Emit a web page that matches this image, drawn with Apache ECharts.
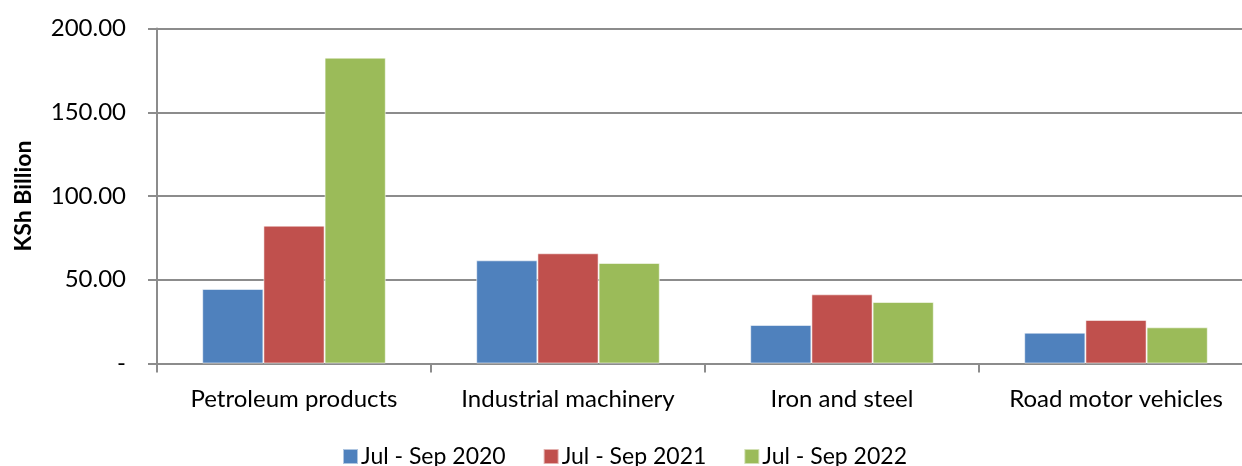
<!DOCTYPE html>
<html>
<head>
<meta charset="utf-8">
<script src="https://cdn.jsdelivr.net/npm/echarts@6/dist/echarts.min.js"></script>
<style>
  html, body { margin: 0; padding: 0; background: #fff; overflow: hidden; }
  /* the source plot runs ~11px past the right edge, so the canvas is a bit wider than the window */
  #chart { width: 1253px; height: 466px; }
</style>
</head>
<body>
<div id="chart"></div>
<script>
const categories = ['Petroleum products', 'Industrial machinery', 'Iron and steel', 'Road motor vehicles'];
const seriesNames = ['Jul - Sep 2020', 'Jul - Sep 2021', 'Jul - Sep 2022'];
const values2020 = [44.5, 61.6, 23.0, 18.4];
const values2021 = [82.3, 65.8, 41.3, 26.0];
const values2022 = [182.6, 60.0, 36.7, 21.6];
const colors = ['#4F81BD', '#C0504D', '#9BBB59'];

const font = 'Lato, "Liberation Sans", sans-serif';
const seriesValues = [values2020, values2021, values2022];

const chart = echarts.init(document.getElementById('chart'));

chart.setOption({
  animation: false,
  textStyle: { fontFamily: font },
  grid: { left: 157, right: 0, top: 28.5, bottom: 102.5, containLabel: false },
  legend: {
    data: seriesNames,
    bottom: -7,
    left: 337,
    itemWidth: 15,
    itemHeight: 15,
    itemGap: 37,
    icon: 'rect',
    textStyle: { fontSize: 23, color: '#000', fontFamily: font, padding: [0, 0, 0, -2] }
  },
  xAxis: {
    type: 'category',
    data: categories,
    axisLine: { lineStyle: { color: '#8c8c8c', width: 2 } },
    axisTick: { show: true, interval: 0, length: 9, lineStyle: { color: '#8c8c8c', width: 2 } },
    axisLabel: { interval: 0, fontSize: 24, color: '#000', margin: 24, fontFamily: font }
  },
  yAxis: {
    type: 'value',
    min: 0,
    max: 200,
    interval: 50,
    name: 'KSh Billion',
    nameLocation: 'middle',
    nameGap: 122,
    nameTextStyle: { fontSize: 23, fontWeight: 'bold', color: '#000', fontFamily: font },
    axisLine: { show: true, lineStyle: { color: '#8c8c8c', width: 2 } },
    axisTick: { show: true, length: 9, inside: false, lineStyle: { color: '#8c8c8c', width: 2 } },
    splitLine: { lineStyle: { color: '#8c8c8c', width: 2 } },
    axisLabel: {
      fontSize: 24,
      color: '#000',
      margin: 31,
      fontFamily: font,
      formatter: function (v) {
        return v === 0 ? '-' : v.toFixed(2);
      }
    }
  },
  series: seriesValues.map(function (vals, i) {
    return {
      name: seriesNames[i],
      type: 'bar',
      data: vals,
      barGap: '0%',
      barCategoryGap: '33%',
      itemStyle: { color: colors[i], borderColor: 'rgba(255,255,255,0.55)', borderWidth: 1 }
    };
  })
});
</script>
</body>
</html>
